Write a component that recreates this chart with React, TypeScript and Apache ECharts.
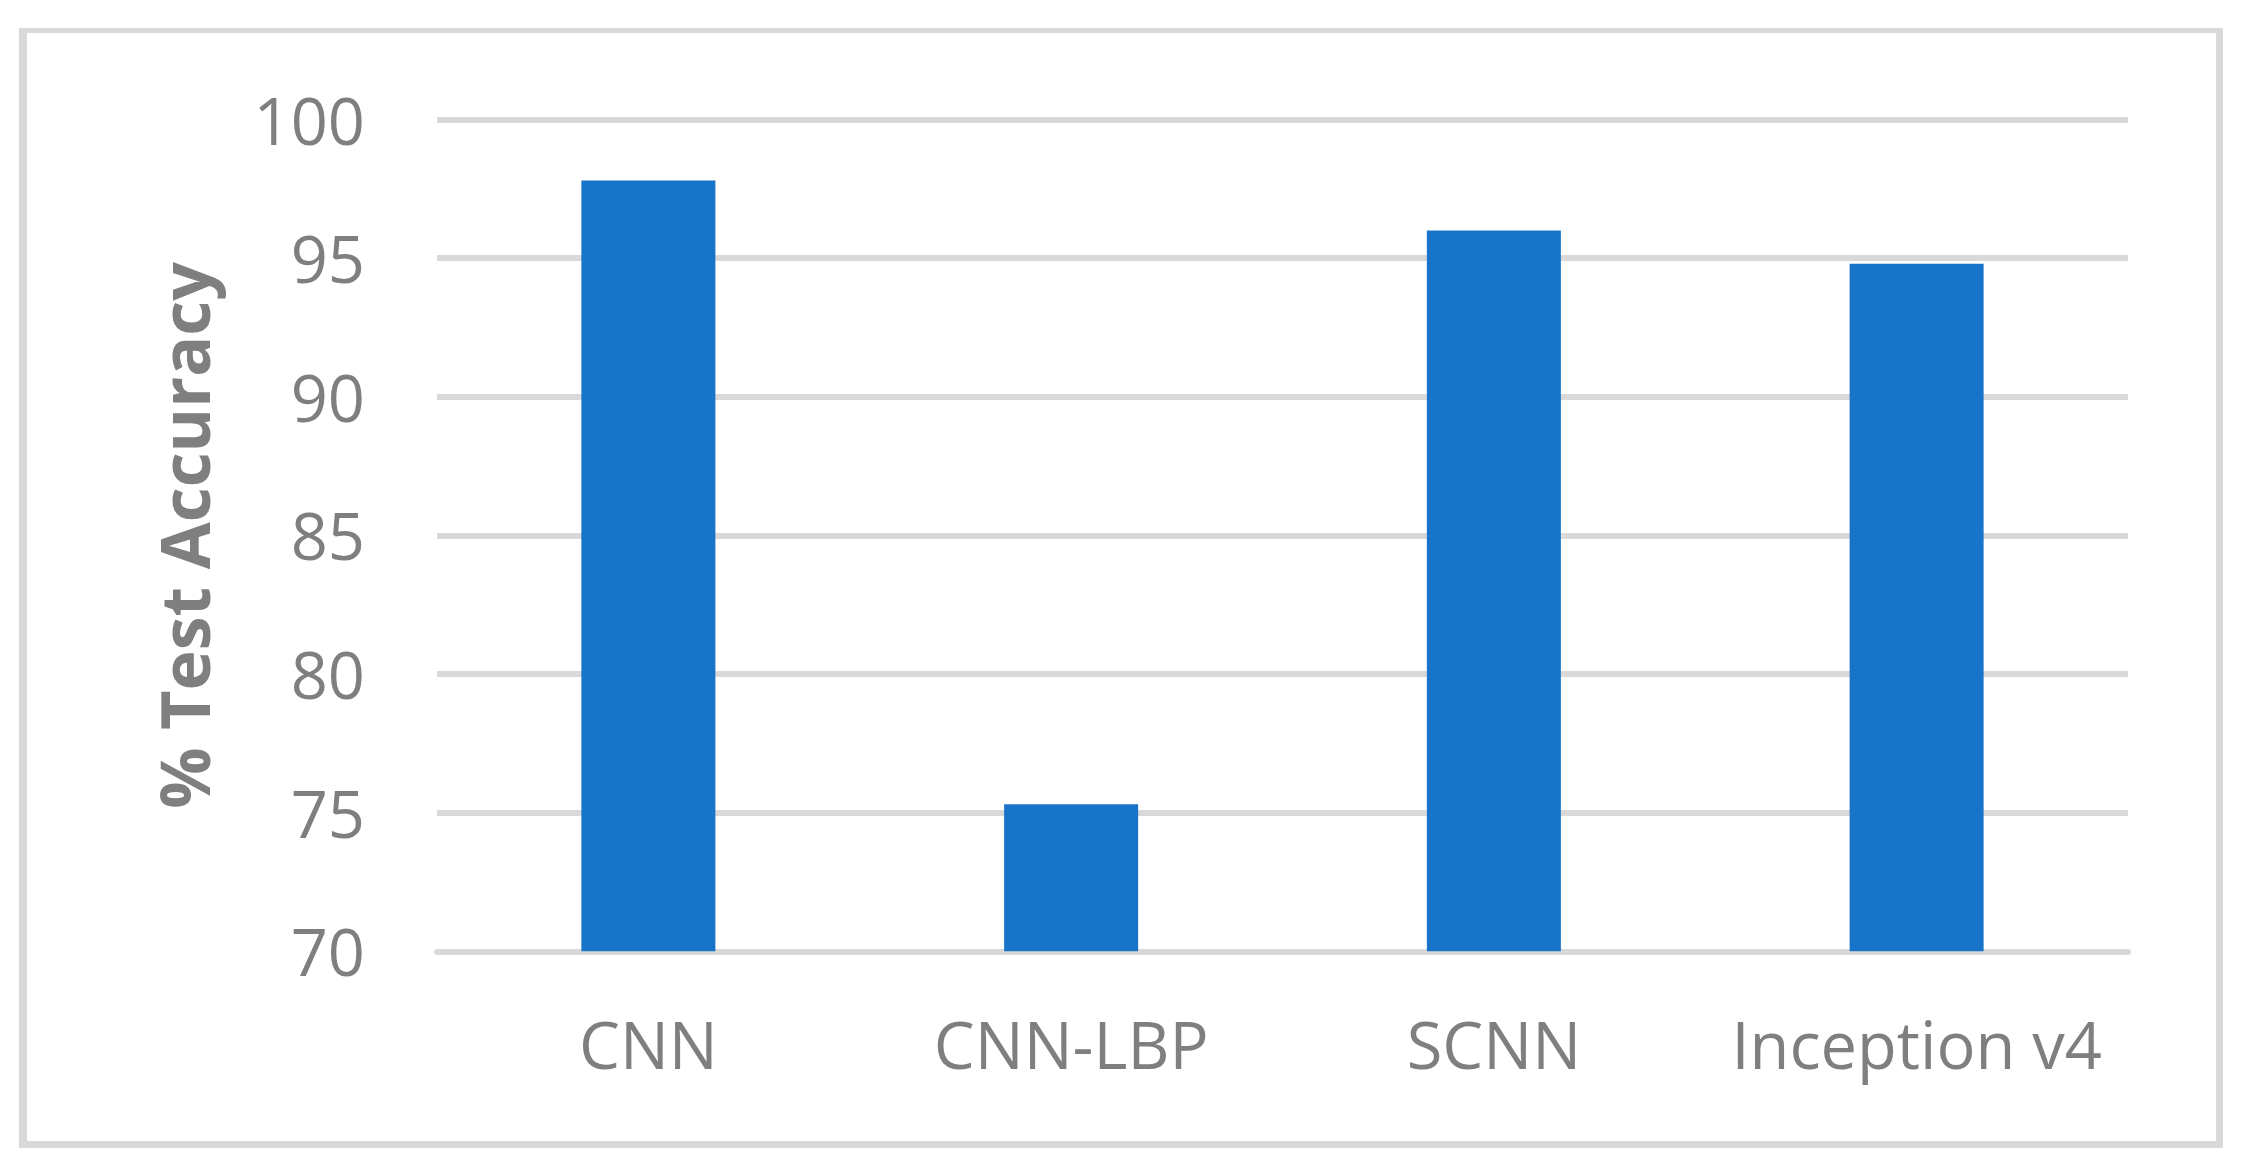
import React, { useEffect, useRef } from "react";
import * as echarts from "echarts";

const categories = ["CNN", "CNN-LBP", "SCNN", "Inception v4"];
const accuracy = [97.8, 75.3, 96.0, 94.8];
const yMin = 70;
const yMax = 100;
const yStep = 5;
const yTitle = "% Test Accuracy";

const GRAY = "#7f7f7f";
const GRID = "#d9d9d9";
const BAR = "#1874c8";
const FONT = "'Open Sans', 'Noto Sans', sans-serif";

export default function App() {
  const ref = useRef<HTMLDivElement>(null);
  useEffect(() => {
    if (!ref.current) return;
    const chart = echarts.init(ref.current, undefined, { renderer: "svg" });
    chart.setOption({
      animation: false,
      backgroundColor: "#ffffff",
      graphic: [
        { type: "rect", shape: { x: 19, y: 28, width: 2204, height: 5 }, style: { fill: GRID }, silent: true },
        { type: "rect", shape: { x: 19, y: 28, width: 8, height: 1120 }, style: { fill: GRID }, silent: true },
        { type: "rect", shape: { x: 2216, y: 28, width: 7, height: 1120 }, style: { fill: GRID }, silent: true },
        { type: "rect", shape: { x: 19, y: 1141, width: 2204, height: 7 }, style: { fill: GRID }, silent: true },
      ],
      grid: { left: 437, right: 115, top: 119.5, bottom: 222.7, containLabel: false },
      xAxis: {
        type: "category",
        data: categories,
        axisLine: { show: true, lineStyle: { color: GRID, width: 6 } },
        axisTick: { show: false },
        axisLabel: { color: GRAY, fontSize: 65, fontFamily: FONT, margin: 60, interval: 0 },
        splitLine: { show: false },
      },
      yAxis: {
        type: "value",
        min: yMin,
        max: yMax,
        interval: yStep,
        axisLine: { show: false },
        axisTick: { show: false },
        axisLabel: { color: GRAY, fontSize: 65, fontFamily: FONT, margin: 72 },
        splitLine: { show: true, lineStyle: { color: GRID, width: 6 } },
        name: yTitle,
        nameLocation: "middle",
        nameGap: 220,
        nameRotate: 90,
        nameTextStyle: { color: GRAY, fontSize: 68, fontWeight: "bold", fontFamily: FONT },
      },
      series: [
        {
          type: "bar",
          data: accuracy,
          barWidth: 134,
          itemStyle: { color: BAR },
        },
      ],
    });
    return () => chart.dispose();
  }, []);
  return (
    <div
      ref={ref}
      style={{ position: "absolute", left: 0, top: 0, width: 2243, height: 1174, background: "#fff" }}
    />
  );
}
